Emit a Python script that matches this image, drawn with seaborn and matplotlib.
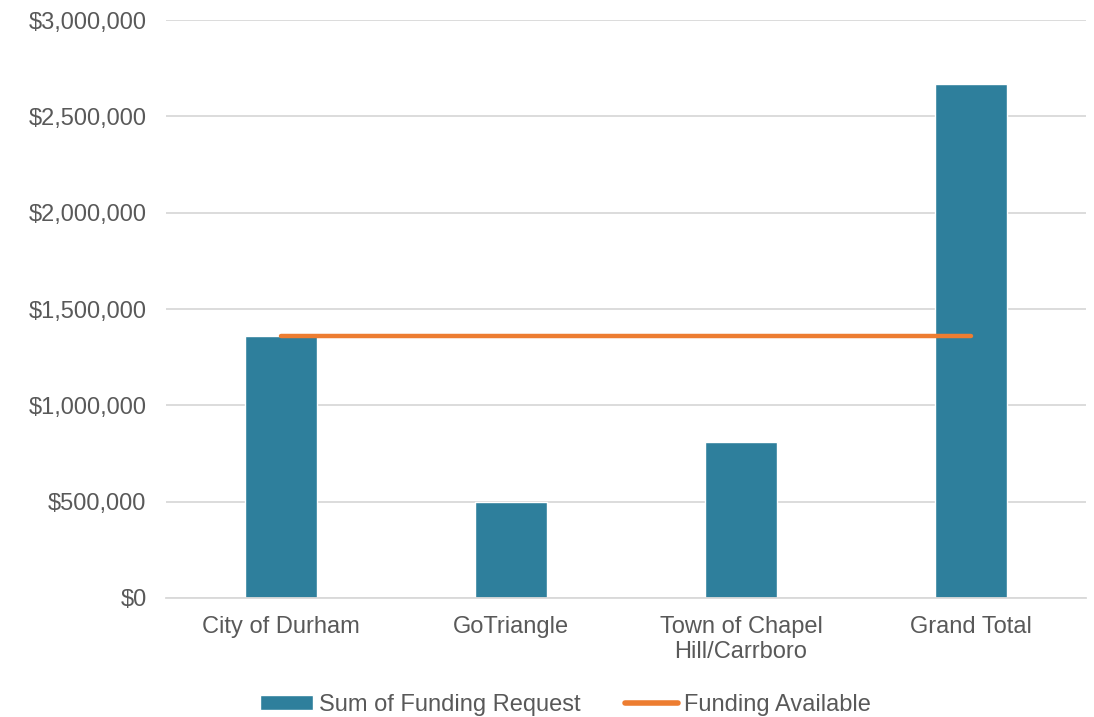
import matplotlib
matplotlib.use("Agg")
import matplotlib.pyplot as plt
import matplotlib.ticker as mticker
import numpy as np
import pandas as pd
import seaborn as sns

categories = ["City of Durham", "GoTriangle", "Town of Chapel\nHill/Carrboro", "Grand Total"]
funding_request = [1360000, 500000, 810000, 2670000]
funding_available = [1360000, 1360000, 1360000, 1360000]

sns.set_theme(style="white")
plt.rcParams["font.family"] = ["Liberation Sans", "DejaVu Sans"]

df = pd.DataFrame({"category": categories, "request": funding_request})

fig = plt.figure(figsize=(10.94, 7.17), dpi=100)
ax = fig.add_axes([0.1517, 0.166, 0.841, 0.806])

sns.barplot(data=df, x="category", y="request", color="#2E7F9C", saturation=1,
            width=0.315, ax=ax, label="Sum of Funding Request", zorder=2)
sns.lineplot(x=np.arange(len(categories)), y=funding_available, color="#ED7D31",
             linewidth=3.2, ax=ax, label="Funding Available", zorder=3,
             solid_capstyle="round")

ax.set_ylim(0, 3000000)
ax.set_xlim(-0.5, len(categories) - 0.5)
ax.yaxis.set_major_locator(mticker.MultipleLocator(500000))
ax.yaxis.set_major_formatter(mticker.FuncFormatter(lambda v, p: f"${v:,.0f}"))
ax.grid(axis="y", color="#D9D9D9", linewidth=1.3, zorder=0)
ax.set_axisbelow(True)
for s in ["top", "right", "left"]:
    ax.spines[s].set_visible(False)
ax.spines["bottom"].set_color("#D9D9D9")
ax.spines["bottom"].set_linewidth(1.3)
ax.tick_params(axis="both", length=0, labelsize=17, labelcolor="#595959")
ax.tick_params(axis="y", pad=14)
ax.tick_params(axis="x", pad=13)
for t in ax.get_xticklabels():
    t.set_linespacing(1.15)
ax.set_xlabel("")
ax.set_ylabel("")

handles, labels = ax.get_legend_handles_labels()
order = [labels.index("Sum of Funding Request"), labels.index("Funding Available")]
leg = ax.legend([handles[i] for i in order], [labels[i] for i in order],
                loc="center", bbox_to_anchor=(0.434, -0.185), ncol=2, frameon=False,
                fontsize=17, labelcolor="#595959", handlelength=2.25, handleheight=0.6,
                handletextpad=0.25, columnspacing=1.9)
leg.get_lines()[0].set_linewidth(4)

fig.savefig("out.png", dpi=100)
